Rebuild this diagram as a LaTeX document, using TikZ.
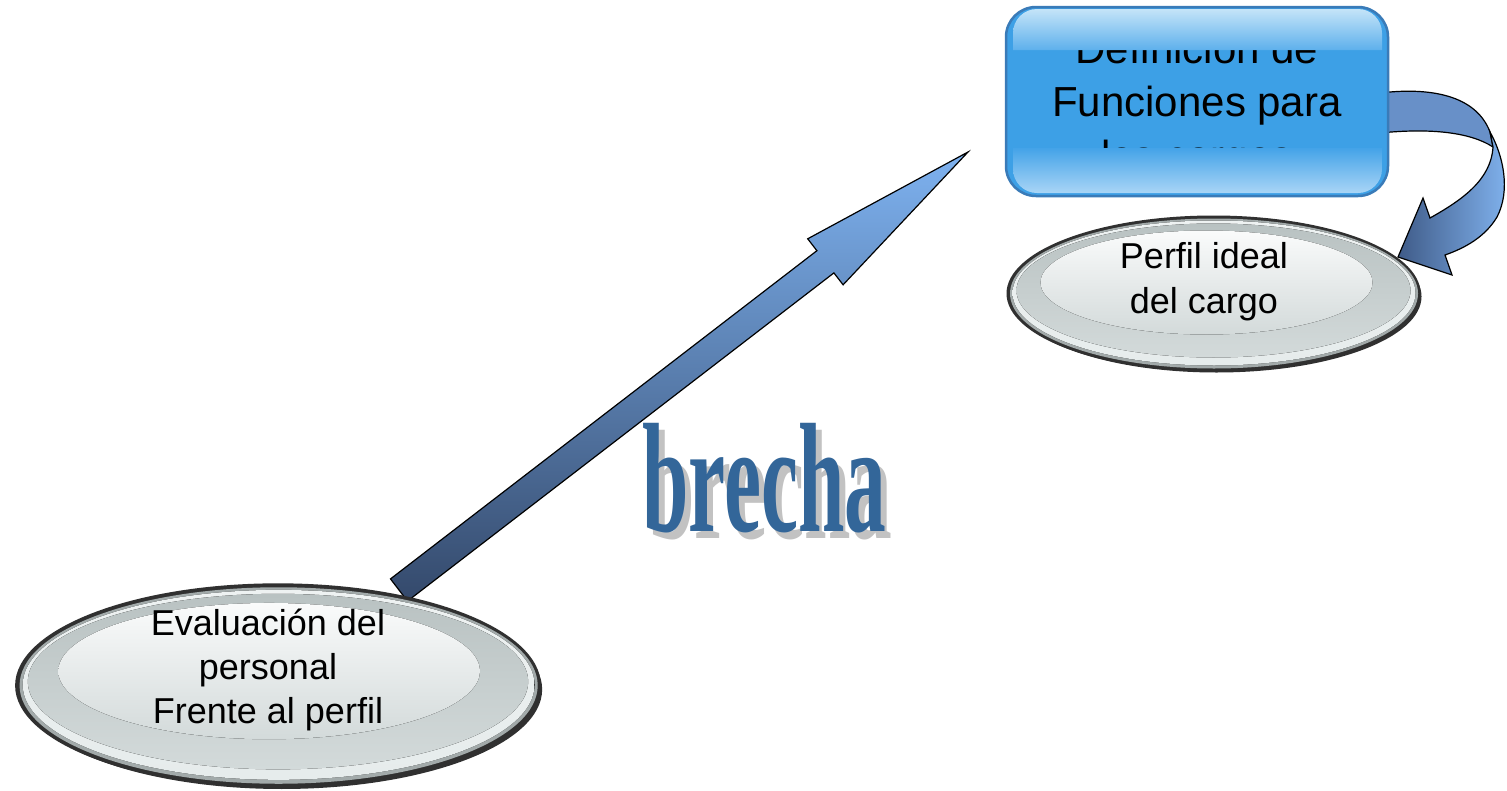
\documentclass[tikz,border=0pt]{standalone}
\usepackage{fontspec}
\setmainfont{Liberation Sans}
\newfontfamily\brechafont{Liberation Serif}
\usetikzlibrary{shapes.geometric}
\definecolor{boxfill}{HTML}{3DA0E6}
\definecolor{boxedge}{HTML}{3A7BB8}
\definecolor{glosstop}{HTML}{C4E4F8}
\definecolor{glossmid}{HTML}{5EB0EC}
\definecolor{glossbot}{HTML}{A9D5F6}
\definecolor{glossbtop}{HTML}{44A3E8}
\definecolor{arrowlight}{HTML}{7EB2F0}
\definecolor{arrowdark}{HTML}{34496B}
\definecolor{ribbonback}{HTML}{6890C8}
\definecolor{ribbondark}{HTML}{3F5B88}
\definecolor{ribbonlight}{HTML}{82B4F0}
\definecolor{brechablue}{HTML}{336699}
\definecolor{brechashadow}{HTML}{C2C2C2}
\definecolor{rimdark}{HTML}{303030}
\definecolor{ringline}{HTML}{A2AAAA}
\definecolor{ringtop}{HTML}{EEF2F2}
\definecolor{ringbot}{HTML}{E6ECEC}
\definecolor{bandtop}{HTML}{B9C2C2}
\definecolor{bandbot}{HTML}{D3DADA}
\definecolor{innertop}{HTML}{FAFBFB}
\definecolor{innerbot}{HTML}{D3DADA}
\tikzset{
  lbl/.style={anchor=base, inner sep=0pt, text=black, font=\fontsize{36}{44}\selectfont},
  boxlbl/.style={anchor=base, inner sep=0pt, text=black, font=\fontsize{42}{53}\selectfont},
  outline/.style={draw=black, line width=1.2pt, line join=miter},
  glossy ellipse/.pic={
    \fill[rimdark] (3,3) ellipse [x radius=205pt, y radius=76pt];
    \fill[rimdark] (0,0) ellipse [x radius=207pt, y radius=78pt];
    \fill[ringline] (0.5,0) ellipse [x radius=204pt, y radius=75pt];
    \fill[top color=ringtop, bottom color=ringbot] (0.5,-0.5) ellipse [x radius=201.5pt, y radius=72.5pt];
    \fill[top color=bandtop, bottom color=bandbot] (0,-3) ellipse [x radius=197pt, y radius=67pt];
    \fill[top color=innertop, bottom color=innerbot] (-7,-11) ellipse [x radius=166pt, y radius=52pt];
  }
}
\begin{document}
\begin{tikzpicture}[x=1pt,y=-1pt]
\useasboundingbox (0,0) rectangle (1507,790);
\fill[white] (0,0) rectangle (1507,790);

% big arrow (behind the lower ellipse)
\coordinate (tailL) at (390.5,578.9);
\coordinate (tailR) at (407.5,601.1);
\coordinate (shR) at (833.9,272.9);
\coordinate (barbR) at (843.1,284.8);
\coordinate (tip) at (968,152);
\coordinate (barbL) at (807.7,238.8);
\coordinate (shL) at (816.9,250.7);
\draw[outline, top color=arrowlight, bottom color=arrowdark]
  (tailL) -- (tailR) -- (shR) -- (barbR) -- (tip) -- (barbL) -- (shL) -- cycle;

% lower ellipse
\pic at (278,685.5) [xscale=1.27, yscale=1.31] {glossy ellipse};
\node[ellipse, minimum width=526pt, minimum height=205pt, inner sep=0pt] (eval) at (278,685.5) {};
\node[lbl] (eval1) at (268,635) {Evaluación del};
\node[lbl] (eval2) at (268,679) {personal};
\node[lbl] (eval3) at (268,723) {Frente al perfil};

% upper-right ellipse
\pic at (1213.5,293.5) {glossy ellipse};
\node[ellipse, minimum width=415pt, minimum height=157pt, inner sep=0pt] (perfil) at (1213.5,293.5) {};
\node[lbl] (perfil1) at (1204,268) {Perfil ideal};
\node[lbl] (perfil2) at (1204,313) {del cargo};

% curved ribbon arrow
\draw[outline, fill=ribbonback]
  (1380,93) .. controls (1430,87) and (1476,95) .. (1490,132) -- (1493,147)
  .. controls (1470,132) and (1430,128) .. (1380,133) -- cycle;
\draw[outline, left color=ribbondark, right color=ribbonlight]
  (1490,132) .. controls (1503,155) and (1511,190) .. (1497,217)
  .. controls (1485,237) and (1465,248) .. (1445,255) -- (1452,275) -- (1398,257)
  -- (1423,198) -- (1430,218) .. controls (1462,200) and (1491,180) .. (1493,147) -- cycle;

% top-right box
\draw[boxedge, line width=2.5pt, fill=boxfill, rounded corners=30pt] (1006,7) rectangle (1388,196);
\node[boxlbl] (def1) at (1197,63) {Definición de};
\node[boxlbl] (def2) at (1197,116.5) {Funciones para};
\node[boxlbl] (def3) at (1197,170) {los cargos};
\shade[top color=glosstop, bottom color=glossmid]
  (1013,50) [rounded corners=24pt] -- (1013,9) -- (1382,9) [sharp corners] -- (1382,50) -- cycle;
\shade[top color=glossbtop, bottom color=glossbot]
  (1382,148) [rounded corners=24pt] -- (1382,193) -- (1013,193) [sharp corners] -- (1013,148) -- cycle;
\node[inner sep=0pt, minimum width=382pt, minimum height=189pt] (box) at (1197,101.5) {};

% brecha word art
\node[anchor=base west, inner sep=0pt, text=brechashadow, font=\brechafont\bfseries\fontsize{156}{156}\selectfont] (brechash) at (648,538) {\scalebox{0.535}[1]{brecha}};
\node[anchor=base west, inner sep=0pt, text=brechablue, font=\brechafont\bfseries\fontsize{156}{156}\selectfont] (brecha) at (642,531.7) {\scalebox{0.535}[1]{brecha}};
\end{tikzpicture}
\end{document}
